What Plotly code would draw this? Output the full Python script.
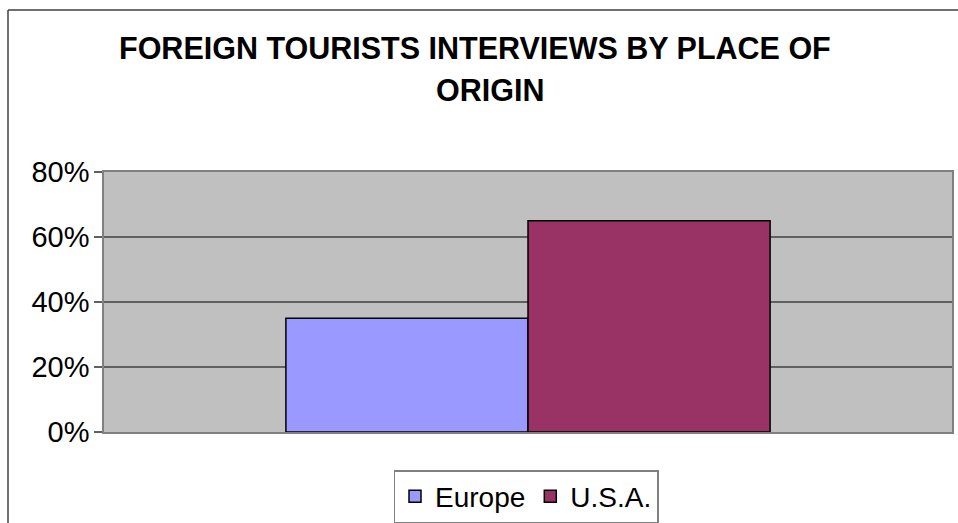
import plotly.graph_objects as go

# Share of foreign tourists interviewed, by place of origin
origins = ["Europe", "U.S.A."]
shares = [0.35, 0.65]
colors = ["#9999FF", "#993366"]
y_ticks = [0, 0.2, 0.4, 0.6, 0.8]

W, H = 958, 523
L, R, T, B = 104, 6, 172, 91
pw, ph = W - L - R, H - T - B

def px_x(x):
    return (x - L) / pw

def px_y(y):
    return (H - B - y) / ph

FONT = "Liberation Sans, Arial, sans-serif"

fig = go.Figure()
for name, val, col in zip(origins, shares, colors):
    fig.add_trace(go.Bar(
        x=[""], y=[val], name=name,
        marker=dict(color=col, line=dict(color="#000000", width=1.5)),
    ))

fig.update_layout(
    width=W, height=H,
    margin=dict(l=L, r=R, t=T, b=B, pad=0, autoexpand=False),
    paper_bgcolor="#FFFFFF",
    plot_bgcolor="#C0C0C0",
    barmode="group",
    bargap=0.429,
    bargroupgap=0,
    font=dict(family=FONT, size=29, color="#000000"),
    showlegend=True,
    legend=dict(
        orientation="h",
        x=px_x(526), xanchor="center",
        y=px_y(470), yanchor="top",
        bgcolor="#FFFFFF",
        bordercolor="#808080", borderwidth=1.5,
        font=dict(family=FONT, size=28, color="#000000"),
        itemwidth=30,
        traceorder="normal",
    ),
    xaxis=dict(
        showticklabels=False, ticks="", showgrid=False, zeroline=False,
        showline=True, linecolor="#808080", linewidth=1.5, mirror=True,
    ),
    yaxis=dict(
        range=[0, 0.8], tickvals=y_ticks, tickformat=".0%",
        ticks="outside", ticklen=8, tickcolor="#606060", tickwidth=1.5,
        ticklabelstandoff=-1,
        showgrid=True, gridcolor="#606060", gridwidth=1.5,
        zeroline=False,
        showline=True, linecolor="#808080", linewidth=1.5, mirror=True,
        tickfont=dict(family=FONT, size=29, color="#000000"),
    ),
)

# Title, two centred lines
fig.add_annotation(
    text="<b>FOREIGN TOURISTS INTERVIEWS BY PLACE OF</b>",
    xref="paper", yref="paper", x=px_x(475), y=px_y(48),
    xanchor="center", yanchor="middle", showarrow=False,
    font=dict(family=FONT, size=30.5, color="#000000"),
)
fig.add_annotation(
    text="<b>ORIGIN</b>",
    xref="paper", yref="paper", x=px_x(490), y=px_y(90),
    xanchor="center", yanchor="middle", showarrow=False,
    font=dict(family=FONT, size=30.5, color="#000000"),
)

# Chart frame (left and top edges)
frame = dict(color="#404040", width=1.5)
fig.add_shape(type="line", xref="paper", yref="paper",
              x0=px_x(8), y0=px_y(10), x1=px_x(8), y1=px_y(540), line=frame)
fig.add_shape(type="line", xref="paper", yref="paper",
              x0=px_x(8), y0=px_y(10), x1=px_x(980), y1=px_y(10), line=frame)

fig.write_html("out.html")
